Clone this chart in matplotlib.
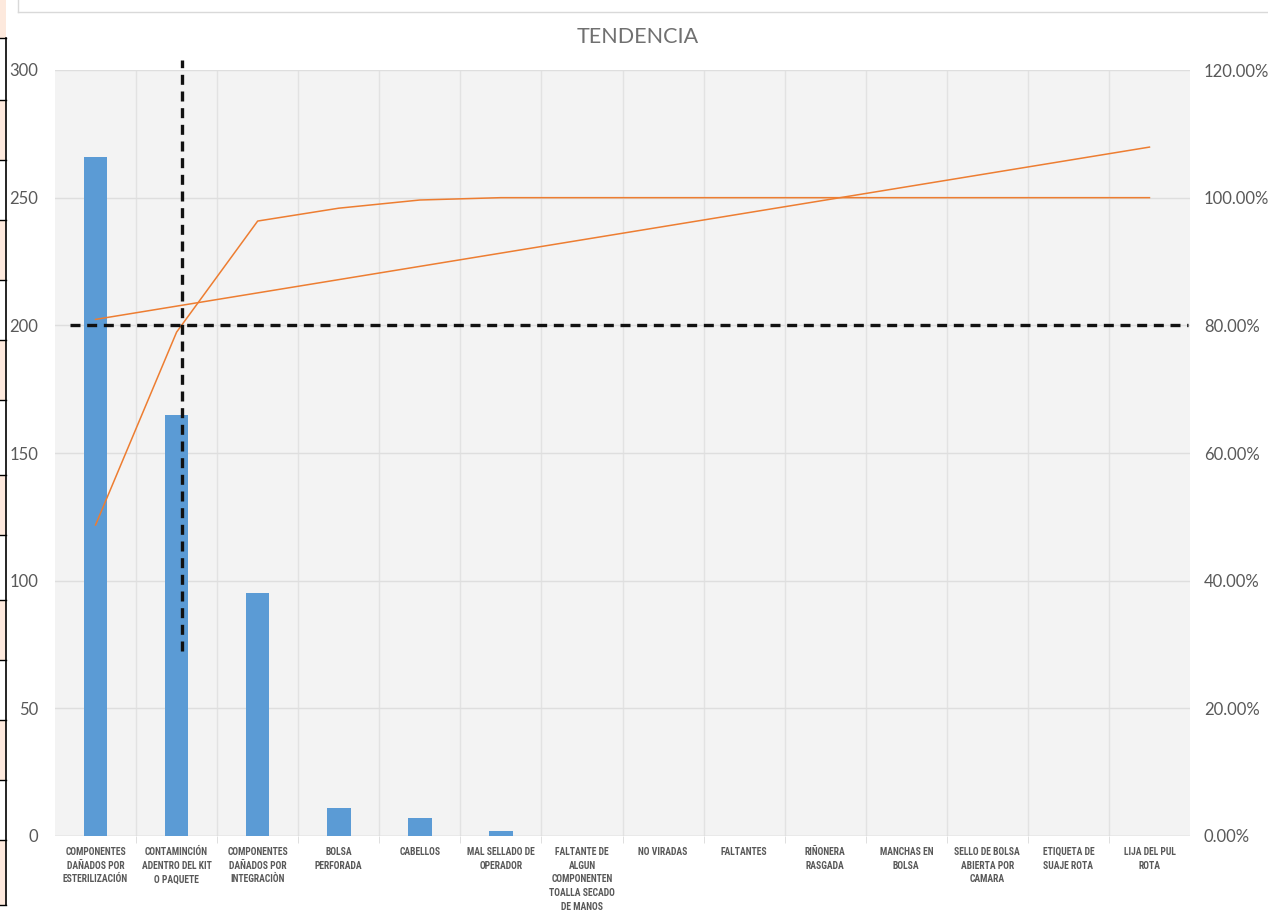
import numpy as np
import matplotlib
matplotlib.use('agg')
import matplotlib.pyplot as plt
from matplotlib.ticker import FuncFormatter, FixedLocator

plt.rcParams['font.family'] = ['Lato', 'DejaVu Sans']

# data
categorias = [
    "COMPONENTES\nDAÑADOS POR\nESTERILIZACIÓN",
    "CONTAMINCIÓN\nADENTRO DEL KIT\nO PAQUETE",
    "COMPONENTES\nDAÑADOS POR\nINTEGRACIÒN",
    "BOLSA\nPERFORADA",
    "CABELLOS",
    "MAL SELLADO DE\nOPERADOR",
    "FALTANTE DE\nALGUN\nCOMPONENTEN\nTOALLA SECADO\nDE MANOS",
    "NO VIRADAS",
    "FALTANTES",
    "RIÑONERA\nRASGADA",
    "MANCHAS EN\nBOLSA",
    "SELLO DE BOLSA\nABIERTA POR\nCAMARA",
    "ETIQUETA DE\nSUAJE ROTA",
    "LIJA DEL PUL\nROTA",
]
frecuencia = [266, 165, 95, 11, 7, 2, 0, 0, 0, 0, 0, 0, 0, 0]
limite_pct = 0.80

x = np.arange(len(categorias))
frec = np.array(frecuencia, dtype=float)
acumulado = np.cumsum(frec) / frec.sum()
# linear trendline of the cumulative curve (as Excel does)
pend, inter = np.polyfit(x, acumulado, 1)
tendencia = inter + pend * x
# where the cumulative crosses 80%
x80 = np.interp(limite_pct, acumulado[:3], x[:3])

GRIS = '#595959'
fig = plt.figure(figsize=(12.68, 9.15), dpi=100)

# spreadsheet bits visible at the left edge of the screenshot
deco = fig.add_axes([0, 0, 1, 1])
deco.set_xlim(0, 1268)
deco.set_ylim(915, 0)
deco.axis('off')
deco.add_patch(plt.Rectangle((0, 0), 6, 38, color='#fde9dd', lw=0))
filas = [38, 100, 160, 220, 280, 340, 400, 475, 535, 600, 660, 720, 780, 840, 905]
for i in range(len(filas) - 1):
    if i % 2 == 1:
        deco.add_patch(plt.Rectangle((0, filas[i]), 6, filas[i + 1] - filas[i], color='#fde9dd', lw=0))
    deco.plot([0, 6], [filas[i], filas[i]], color='black', lw=1)
deco.plot([0, 6], [filas[-1], filas[-1]], color='black', lw=1)
deco.plot([6, 6], [38, 905], color='black', lw=1.2)
deco.plot([18, 1268], [12, 12], color='#d9d9d9', lw=1)
deco.plot([18, 18], [0, 12], color='#d9d9d9', lw=1)

ax = fig.add_axes([55 / 1268, 79 / 915, 1135 / 1268, 766 / 915])
ax.set_facecolor('#f3f3f3')
ax.bar(x, frec, width=0.29, color='#5b9bd5', zorder=3)
ax.set_xlim(-0.5, len(categorias) - 0.5)
ax.set_ylim(0, 300)
ax.set_yticks(np.arange(0, 301, 50))
ax.set_xticks(x)
ax.set_xticklabels(categorias, fontsize=6.9, fontweight='bold', color=GRIS, linespacing=1.45,
                   family=['Roboto Condensed', 'DejaVu Sans Condensed', 'Roboto', 'DejaVu Sans'])
ax.tick_params(axis='x', length=0, pad=8)
ax.xaxis.set_minor_locator(FixedLocator(x[:-1] + 0.5))
ax.tick_params(axis='x', which='minor', length=5, color='#d9d9d9')
ax.tick_params(axis='y', length=0, labelsize=12, labelcolor=GRIS, pad=12)
for s in ax.spines.values():
    s.set_visible(False)
ax.grid(axis='y', color='#dedede', lw=1, zorder=0)
for b in x[:-1] + 0.5:
    ax.axvline(b, color='#e2e2e2', lw=1, zorder=0)
ax.axhline(0, color='#d9d9d9', lw=1, zorder=2)

ax2 = ax.twinx()
ax2.set_ylim(0, 1.2)
ax2.set_yticks(np.arange(0, 1.21, 0.2))
ax2.yaxis.set_major_formatter(FuncFormatter(lambda v, p: '%.2f%%' % (v * 100)))
ax2.tick_params(axis='y', length=0, labelsize=12, labelcolor=GRIS, pad=10)
for s in ax2.spines.values():
    s.set_visible(False)
ax2.plot(x, acumulado, color='#ed7d31', lw=1.1, zorder=4)
ax2.plot(x, tendencia, color='#ed7d31', lw=1.1, zorder=4)

# 80% guide lines
ax2.plot([-0.31, len(categorias) - 0.52], [limite_pct, limite_pct], color='#111111',
         lw=2.4, dashes=(3, 2), zorder=5, clip_on=False)
ax2.plot([x80, x80], [0.29, 1.215], color='#111111',
         lw=2.4, dashes=(3, 2), zorder=5, clip_on=False)

fig.text(638 / 1268, 1 - 37 / 915, 'TENDENCIA', ha='center', va='center',
         fontsize=15.5, color='#707070')

fig.savefig('out.png', dpi=100, facecolor='white')
